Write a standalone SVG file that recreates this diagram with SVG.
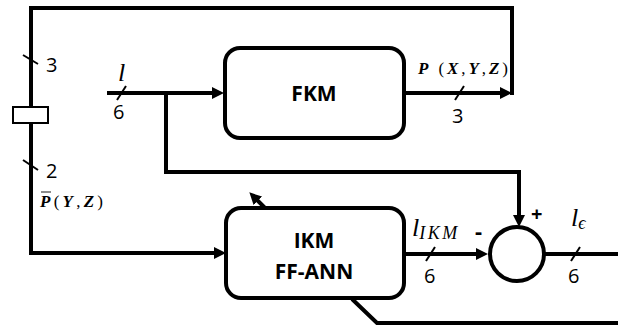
<svg xmlns="http://www.w3.org/2000/svg" width="618" height="329" viewBox="0 0 618 329">
<style>
.w{fill:none;stroke:#000;stroke-width:4;stroke-linejoin:miter}
.tk{stroke:#000;stroke-width:2}
.box{fill:#fff;stroke:#000;stroke-width:4}
.bt{font-family:"Open Sans","Liberation Sans",sans-serif;font-weight:bold;font-size:21px;text-anchor:middle}
.n{font-family:"Open Sans","Liberation Sans",sans-serif;font-size:20px}
.m{font-family:"Liberation Serif",serif;font-style:italic}
</style>
<defs>
<marker id="ah" markerWidth="14" markerHeight="14" refX="4" refY="6" orient="auto" markerUnits="userSpaceOnUse"><path d="M0,0 L12,6 L0,12 z" fill="#000"/></marker>
</defs>
<rect width="618" height="329" fill="#fff"/>
<g id="connectors">
<line class="w" x1="107" y1="93" x2="216" y2="93" marker-end="url(#ah)"/>
<line class="w" x1="404" y1="93" x2="504" y2="93" marker-end="url(#ah)"/>
<polyline class="w" points="512,95 512,8 31,8 31,253 218,253" marker-end="url(#ah)"/>
<polyline class="w" points="166,93 166,172 519,172 519,219" marker-end="url(#ah)"/>
<line class="w" x1="404" y1="254" x2="480" y2="254" marker-end="url(#ah)"/>
<line class="w" x1="545" y1="254" x2="618" y2="254"/>
<line class="w" x1="265" y1="208" x2="255" y2="198" marker-end="url(#ah)"/>
<polyline class="w" points="352,299 377,323 618,323"/>
<line class="tk" x1="23" y1="55" x2="38" y2="64"/>
<line class="tk" x1="23" y1="160" x2="38" y2="170"/>
<line class="tk" x1="117" y1="100" x2="126" y2="86"/>
<line class="tk" x1="455" y1="100" x2="464" y2="86"/>
<line class="tk" x1="426" y1="261" x2="435" y2="247"/>
<line class="tk" x1="571" y1="261" x2="580" y2="247"/>
</g>
<g id="delay"><rect x="13" y="107" width="35" height="16" fill="#fff" stroke="#000" stroke-width="2"/></g>
<g id="fkm">
<rect class="box" x="225" y="48" width="179" height="90" rx="15"/>
<text class="bt" x="314" y="101">FKM</text>
</g>
<g id="ikm">
<rect class="box" x="226" y="208" width="178" height="90" rx="15"/>
<text class="bt" x="314" y="248">IKM</text>
<text class="bt" x="314" y="279">FF-ANN</text>
</g>
<g id="sum">
<circle cx="517" cy="254" r="27" fill="#fff" stroke="#000" stroke-width="4"/>
<text x="531" y="221" font-family="Open Sans,Liberation Sans,sans-serif" font-weight="bold" font-size="20">+</text>
<text x="475" y="239" font-family="Open Sans,Liberation Sans,sans-serif" font-weight="bold" font-size="22">-</text>
</g>
<g id="labels">
<text class="n" x="46" y="72">3</text>
<text class="n" x="46" y="178">2</text>
<text class="n" x="113" y="119">6</text>
<text class="n" x="452" y="123">3</text>
<text class="n" x="424" y="283">6</text>
<text class="n" x="568" y="283">6</text>
<text class="m" x="118" y="81" font-size="26">l</text>
<text class="m" x="418" y="74" font-size="17" font-weight="bold" textLength="90" lengthAdjust="spacing">P<tspan font-style="normal" font-weight="normal"> (</tspan>X<tspan font-style="normal" font-weight="normal">,</tspan>Y<tspan font-style="normal" font-weight="normal">,</tspan>Z<tspan font-style="normal" font-weight="normal">)</tspan></text>
<text class="m" x="40" y="207" font-size="17" font-weight="bold" textLength="63" lengthAdjust="spacing">P<tspan font-style="normal" font-weight="normal">(</tspan>Y<tspan font-style="normal" font-weight="normal">,</tspan>Z<tspan font-style="normal" font-weight="normal">)</tspan></text>
<line x1="41" y1="192" x2="51" y2="192" stroke="#666" stroke-width="1.5"/>
<text class="m" x="412" y="236" font-size="26">l<tspan font-size="18" dy="3" textLength="38">IKM</tspan></text>
<text class="m" x="571" y="226" font-size="26">l<tspan font-size="18" dy="3">ϵ</tspan></text>
</g>
</svg>
